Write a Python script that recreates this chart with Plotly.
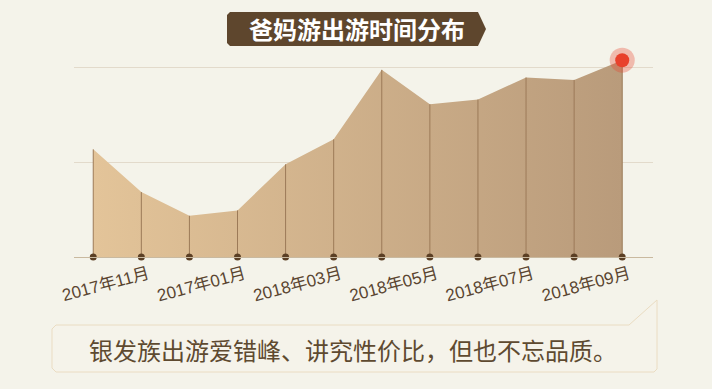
import plotly.graph_objects as go

# ---- data ----
months = ["2017年10月", "2017年11月", "2017年12月", "2018年01月", "2018年02月", "2018年03月",
          "2018年04月", "2018年05月", "2018年06月", "2018年07月", "2018年08月", "2018年09月"]
values = [113.6, 68.5, 43.5, 49.2, 97.8, 124.2, 197.5, 161.2, 166.2, 189.4, 186.9, 207.7]
tick_positions = months[1::2]
tick_labels = ["2017年11月", "2017年01月", "2018年03月", "2018年05月", "2018年07月", "2018年09月"]
title_text = "爸妈游出游时间分布"
note_text = "银发族出游爱错峰、讲究性价比，但也不忘品质。"

BG = "#f4f3ea"
BROWN = "#5e462d"
CJK = "Noto Sans CJK SC"

fig = go.Figure()

# filled area with horizontal gradient
fig.add_trace(go.Scatter(
    x=months, y=values, mode="lines", line=dict(width=0, color="rgba(0,0,0,0)"),
    fill="tozeroy",
    fillgradient=dict(type="horizontal",
                      colorscale=[[0, "#e3c499"], [1, "#b99b7b"]]),
    hoverinfo="skip", showlegend=False))

# vertical drop lines from each point
vx, vy = [], []
for m, v in zip(months, values):
    vx += [m, m, None]
    vy += [0, v, None]
fig.add_trace(go.Scatter(x=vx, y=vy, mode="lines",
                         line=dict(color="#9c7a58", width=1),
                         hoverinfo="skip", showlegend=False))

# base dots
fig.add_trace(go.Scatter(x=months, y=[0] * len(months), mode="markers",
                         marker=dict(size=7, color="#5b3f24"),
                         cliponaxis=False, hoverinfo="skip", showlegend=False))

# highlight last point
fig.add_trace(go.Scatter(x=[months[-1]], y=[values[-1]], mode="markers",
                         marker=dict(size=25, color="rgba(232,65,44,0.32)"),
                         cliponaxis=False, hoverinfo="skip", showlegend=False))
fig.add_trace(go.Scatter(x=[months[-1]], y=[values[-1]], mode="markers",
                         marker=dict(size=14, color="#e8412c"),
                         cliponaxis=False, hoverinfo="skip", showlegend=False))

fig.update_layout(
    width=712, height=389,
    margin=dict(l=74, r=59, t=58, b=132),
    paper_bgcolor=BG, plot_bgcolor=BG,
    xaxis=dict(type="category", categoryorder="array", categoryarray=months,
               range=[-0.4, 11.64], tickmode="array",
               tickvals=tick_positions, ticktext=tick_labels, tickangle=-15,
               showgrid=False, showline=True, linecolor="#c9b99f", linewidth=1,
               ticks="", ticklabelshift=7, ticklabelstandoff=0, zeroline=False,
               tickfont=dict(family="Liberation Sans, " + CJK, size=17, color="#5a4530")),
    yaxis=dict(range=[0, 210], tickvals=[100, 200], showticklabels=False,
               showgrid=True, gridcolor="#e2dacb", gridwidth=1,
               zeroline=False, showline=False),
    showlegend=False,
)


def px_x(x):
    return (x - 74) / (712 - 74 - 59)


def px_y(y):
    return (389 - 132 - y) / (389 - 58 - 132)


# title banner
banner = [(230, 12), (478, 12), (486, 29), (478, 46), (230, 46), (227, 43), (227, 15)]
path = "M " + " L ".join(f"{px_x(a):.5f} {px_y(b):.5f}" for a, b in banner) + " Z"
fig.add_shape(type="path", xref="paper", yref="paper", path=path,
              fillcolor=BROWN, line=dict(width=0), layer="above")
fig.add_annotation(x=px_x(357), y=px_y(29), xref="paper", yref="paper",
                   text="<b>" + title_text + "</b>", showarrow=False,
                   font=dict(family=CJK, size=24, color="white"),
                   xanchor="center", yanchor="middle")

# note box
box = [(56, 325), (629, 325), (657, 300), (657, 369), (654, 372), (56, 372), (52, 368), (52, 329)]
path2 = "M " + " L ".join(f"{px_x(a):.5f} {px_y(b):.5f}" for a, b in box) + " Z"
fig.add_shape(type="path", xref="paper", yref="paper", path=path2,
              fillcolor="#f5f3ea", line=dict(width=1, color="#eadcc2"), layer="above")
fig.add_annotation(x=px_x(353), y=px_y(349), xref="paper", yref="paper",
                   text=note_text, showarrow=False,
                   font=dict(family=CJK, size=24, color="#5e4a30"),
                   xanchor="center", yanchor="middle")

fig.write_html("out.html")
